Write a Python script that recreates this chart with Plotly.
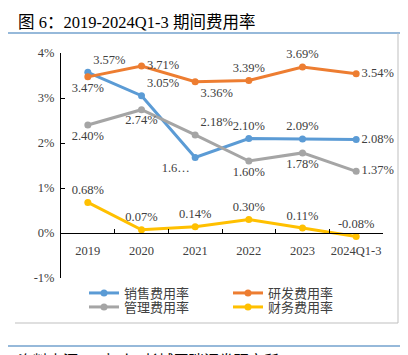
import plotly.graph_objects as go

categories = ["2019", "2020", "2021", "2022", "2023", "2024Q1-3"]
sales = [3.57, 3.05, 1.68, 2.10, 2.09, 2.08]
rnd = [3.47, 3.71, 3.36, 3.39, 3.69, 3.54]
admin = [2.40, 2.74, 2.18, 1.60, 1.78, 1.37]
finance = [0.68, 0.07, 0.14, 0.30, 0.11, -0.08]
series_names = ["销售费用率", "研发费用率", "管理费用率", "财务费用率"]
y_ticks = [-1, 0, 1, 2, 3, 4]

# the page body has an 8px margin, so work in screen pixels minus OFF
OFF = 8
W, H = 408 - OFF, 355 - OFF
L, R, T, B = 61 - OFF, 383 - OFF, 53 - OFF, 278 - OFF


def px(x):
    return (x - OFF - L) / (R - L)


def py(y):
    return (B - (y - OFF)) / (B - T)


def labels(vals):
    return [f"{v:.2f}%" for v in vals]


sales_text = labels(sales)
sales_text[2] = "1.6…"

colors = ["#5B9BD5", "#ED7D31", "#A5A5A5", "#FFC000"]
positions = [
    ["top right", "top right", "bottom left", "top center", "top center", "middle right"],
    ["bottom center", "middle right", "bottom right", "top center", "top center", "middle right"],
    ["bottom center", "bottom center", "top right", "bottom center", "bottom center", "middle right"],
    ["top center"] * 6,
]
data = [sales, rnd, admin, finance]
texts = [sales_text, labels(rnd), labels(admin), labels(finance)]
legend_ids = ["legend", "legend2", "legend3", "legend4"]

fig = go.Figure()
for i in range(4):
    fig.add_trace(go.Scatter(
        x=categories, y=data[i], name=series_names[i], mode="lines+markers+text",
        line=dict(color=colors[i], width=3), marker=dict(color=colors[i], size=7),
        text=texts[i], textposition=positions[i],
        textfont=dict(family="Liberation Serif", size=12.5, color="#404040"),
        legend=legend_ids[i], cliponaxis=False,
    ))

legend_font = dict(family="Noto Sans CJK SC", size=13, color="#404040")
# screen positions of each legend entry (left, row centre)
leg_pos = [(84, 293), (228, 293), (84, 307), (228, 307)]
layout_legends = {}
for i, lid in enumerate(legend_ids):
    x0, y0 = leg_pos[i]
    layout_legends[lid] = dict(
        x=px(x0), y=py(y0), xanchor="left", yanchor="middle",
        orientation="h", font=legend_font, bgcolor="rgba(0,0,0,0)",
        borderwidth=0, itemwidth=30,
    )

blue_line = "#2E75B6"
shapes = [
    dict(type="line", xref="paper", yref="paper", x0=px(8), x1=px(402), y0=py(33), y1=py(33),
         line=dict(color=blue_line, width=1.2)),
    dict(type="line", xref="paper", yref="paper", x0=px(398), x1=px(398), y0=py(33), y1=py(323),
         line=dict(color="#BFBFBF", width=1)),
    dict(type="line", xref="paper", yref="paper", x0=px(15), x1=px(398), y0=py(323), y1=py(323),
         line=dict(color="#BFBFBF", width=1)),
    dict(type="line", xref="paper", yref="paper", x0=px(8), x1=px(402), y0=py(346), y1=py(346),
         line=dict(color=blue_line, width=1.2)),
]

annotations = [
    dict(text="图 6：2019-2024Q1-3 期间费用率", xref="paper", yref="paper",
         x=px(16), y=py(22), xanchor="left", yanchor="middle", showarrow=False,
         font=dict(family="Liberation Serif, Noto Sans CJK SC", size=16.5, color="#000000")),
    dict(text="资料来源：Wind，长城国瑞证券研究所", xref="paper", yref="paper",
         x=px(16), y=py(347), xanchor="left", yanchor="top", showarrow=False,
         font=dict(family="Noto Sans CJK SC", size=15, color="#000000")),
]

fig.update_layout(
    width=W, height=H,
    margin=dict(l=L, r=W - R, t=T, b=H - B, pad=0),
    paper_bgcolor="white", plot_bgcolor="white",
    showlegend=True,
    shapes=shapes, annotations=annotations,
    **layout_legends,
)

fig.update_xaxes(
    type="category", range=[-0.5, 5.5], anchor="free", position=py(233),
    showline=True, linecolor="#000000", linewidth=1,
    ticks="inside", ticklen=4, tickcolor="#000000", tickson="boundaries",
    showgrid=False, zeroline=False, tickangle=0,
    tickfont=dict(family="Liberation Serif", size=12.5, color="#404040"),
    ticklabelstandoff=6,
)
fig.update_yaxes(
    range=[-1, 4], tickvals=y_ticks, ticktext=[f"{v}%" for v in y_ticks],
    showline=True, linecolor="#000000", linewidth=1,
    ticks="inside", ticklen=4, tickcolor="#000000",
    showgrid=False, zeroline=False,
    tickfont=dict(family="Liberation Serif", size=12.5, color="#404040"),
    ticklabelstandoff=3,
)

fig.write_html("out.html")
